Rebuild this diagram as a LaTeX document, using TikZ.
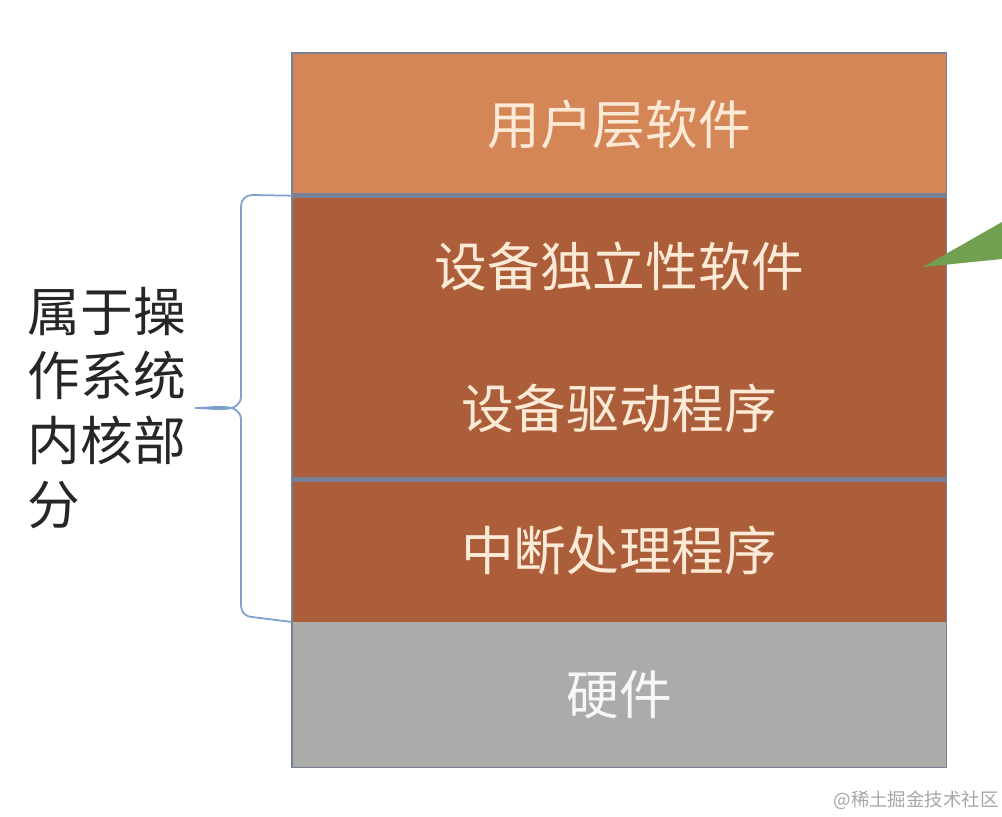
\documentclass[tikz,border=0pt]{standalone}
\usepackage{fontspec}
\setmainfont{Noto Sans CJK SC}
\usepackage{tikz}
\usetikzlibrary{positioning}
\definecolor{userorange}{RGB}{213,134,87}
\definecolor{kernelbrown}{RGB}{172,94,58}
\definecolor{hwgray}{RGB}{171,171,169}
\definecolor{edgegray}{RGB}{118,128,150}
\definecolor{braceblue}{RGB}{125,160,205}
\definecolor{calloutgreen}{RGB}{112,160,80}
\definecolor{labelcream}{RGB}{252,234,214}

\begin{document}
\begin{tikzpicture}[
  x=0.02cm, y=-0.02cm,
  layer/.style={rectangle, inner sep=0pt, minimum width=13.08cm, text=labelcream, font=\fontsize{30}{36}\selectfont},
  inlabel/.style={inner sep=0pt, text=labelcream, font=\fontsize{30}{36}\selectfont},
  sidetext/.style={inner sep=0pt, align=left, text=black!85, font=\fontsize{30}{36.5}\selectfont},
  divider/.style={edgegray, line width=2.6pt},
  brace/.style={braceblue, line width=1pt}
]
\useasboundingbox (0,0) rectangle (1002,816);

% the layers, top to bottom
\node[layer, fill=userorange, minimum height=2.84cm, anchor=north west] (user) at (292,53) {用户层软件};
\node[layer, fill=kernelbrown, minimum height=5.66cm, below=0pt of user] (dev) {};
\node[layer, fill=kernelbrown, minimum height=2.84cm, below=0pt of dev] (irq) {中断处理程序};
\node[layer, fill=hwgray, minimum height=2.9cm, below=0pt of irq, text=white!94!gray] (hw) {硬件};
\node[inlabel] (indep) at ([yshift=1.42cm]dev.center) {设备独立性软件};
\node[inlabel] (driver) at ([yshift=-1.42cm]dev.center) {设备驱动程序};

\draw[edgegray, line width=0.6pt] (user.north west) rectangle (hw.south east);
\draw[divider] (user.south west) -- (user.south east);
\draw[divider] (dev.south west) -- (dev.south east);

% brace for the kernel part
\coordinate (tip) at (195,408);
\draw[brace] (dev.north west) -- (252,195) to[out=180,in=90] (241,206) -- (241,396)
  to[out=270,in=0] (tip) to[out=0,in=90] (241,420) -- (241,606)
  to[out=270,in=180] (252,617) -- (irq.south west);
\node[sidetext, left=5pt of tip] (kernel) {属于操\\作系统\\内核部\\分};

% callout
\fill[calloutgreen] (923,267) -- (1002,222) -- (1002,259) -- cycle;

\node[anchor=east, inner sep=0pt, text=black!35, font=\fontsize{10.5}{12}\selectfont] (mark) at (999,800) {@稀土掘金技术社区};
\end{tikzpicture}
\end{document}
